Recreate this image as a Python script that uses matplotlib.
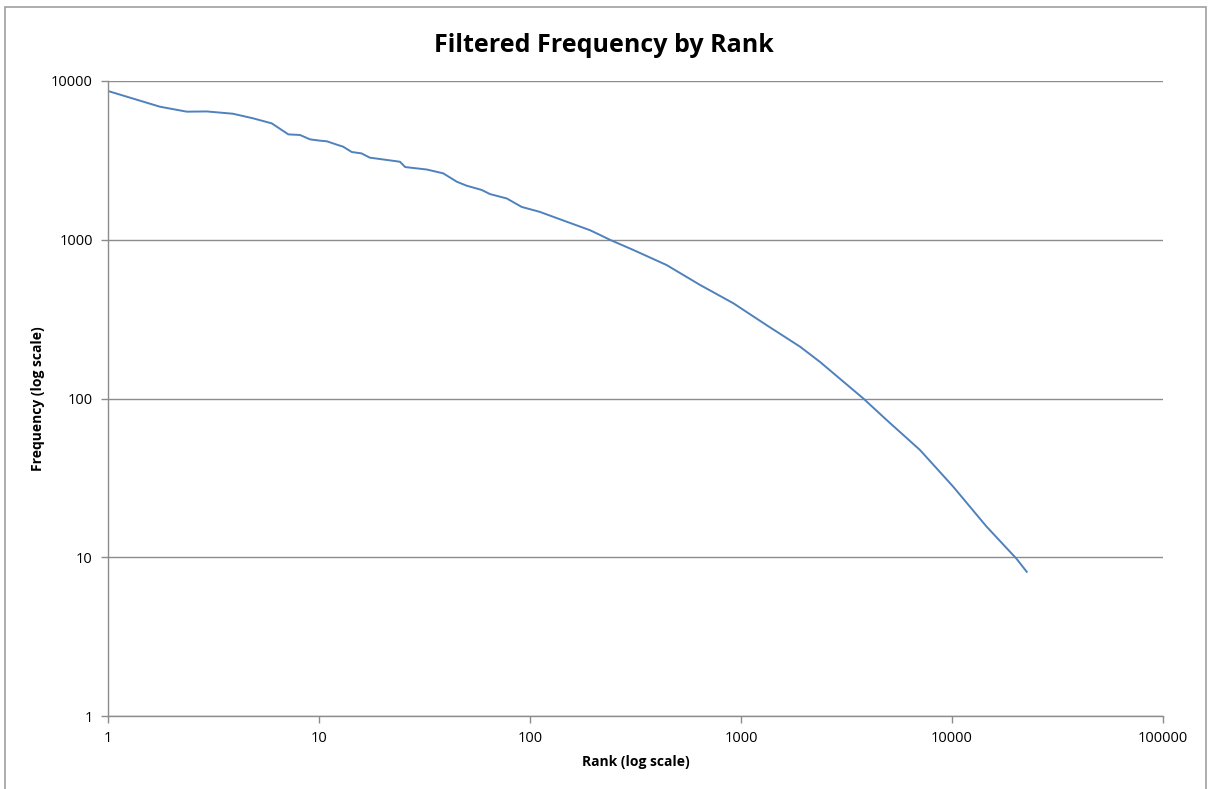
import numpy as np
import matplotlib.pyplot as plt
from matplotlib.patches import Rectangle

# Values (rank, filtered frequency)
rank = [1, 1.76, 2.36, 2.94, 3.91, 4.87, 5.97, 7.16, 8.13, 9.06, 10.1, 10.9,
        12.3, 13.0, 14.3, 15.9, 17.4, 24.2, 25.6, 32.4, 38.8, 45.0, 50.1, 59.0,
        64.6, 77.6, 91.3, 111, 149, 192, 215, 239, 309, 444, 640, 920, 1321,
        1905, 2368, 3800, 4900, 7050, 10140, 14580, 20200, 22600]
freq = [8650, 6890, 6410, 6430, 6220, 5820, 5410, 4610, 4570, 4290, 4210, 4170,
        3950, 3860, 3570, 3500, 3290, 3100, 2870, 2770, 2620, 2320, 2190, 2060,
        1940, 1820, 1610, 1500, 1300, 1150, 1071, 1000, 862, 693, 519, 398, 290,
        212, 170, 100, 73.2, 47.4, 27.8, 15.6, 9.8, 8.1]

x_ticks = [1, 10, 100, 1000, 10000, 100000]
y_ticks = [1, 10, 100, 1000, 10000]

plt.rcParams['font.family'] = ['Open Sans', 'DejaVu Sans']

fig = plt.figure(figsize=(12.08, 7.89), dpi=100)
ax = fig.add_axes([108 / 1208, 1 - 716 / 789, 1055 / 1208, 635 / 789])

# chart-area border like the spreadsheet export
fig.patches.append(Rectangle((5 / 1208, -0.01), 1201 / 1208, 1 - 7 / 789 + 0.01,
                             transform=fig.transFigure, fill=False,
                             edgecolor='#a0a0a0', linewidth=1.2))

ax.plot(rank, freq, color='#4f81bd', linewidth=1.4)

ax.set_xscale('log')
ax.set_yscale('log')
ax.set_xlim(1, 100000)
ax.set_ylim(1, 10000)
ax.set_xticks(x_ticks)
ax.set_xticklabels([str(t) for t in x_ticks])
ax.set_yticks(y_ticks)
ax.set_yticklabels([str(t) for t in y_ticks])
ax.minorticks_off()

ax.grid(axis='y', color='#8c8c8c', linewidth=1.0)
ax.set_axisbelow(True)
for side in ['top', 'right']:
    ax.spines[side].set_visible(False)
for side in ['left', 'bottom']:
    ax.spines[side].set_color('#8c8c8c')
    ax.spines[side].set_linewidth(1.0)
ax.tick_params(axis='both', colors='#8c8c8c', length=5, width=1.0,
               labelcolor='black', labelsize=10.5)
ax.tick_params(axis='y', pad=6)
ax.tick_params(axis='x', pad=6)

ax.set_xlabel('Rank (log scale)', fontsize=10, fontweight='bold', labelpad=6)
ax.set_ylabel('Frequency (log scale)', fontsize=10, fontweight='bold', labelpad=4)
fig.text(0.5, 1 - 45 / 789, 'Filtered Frequency by Rank', ha='center', va='center',
         fontsize=18, fontweight='bold')

fig.savefig('out.png', dpi=100)
